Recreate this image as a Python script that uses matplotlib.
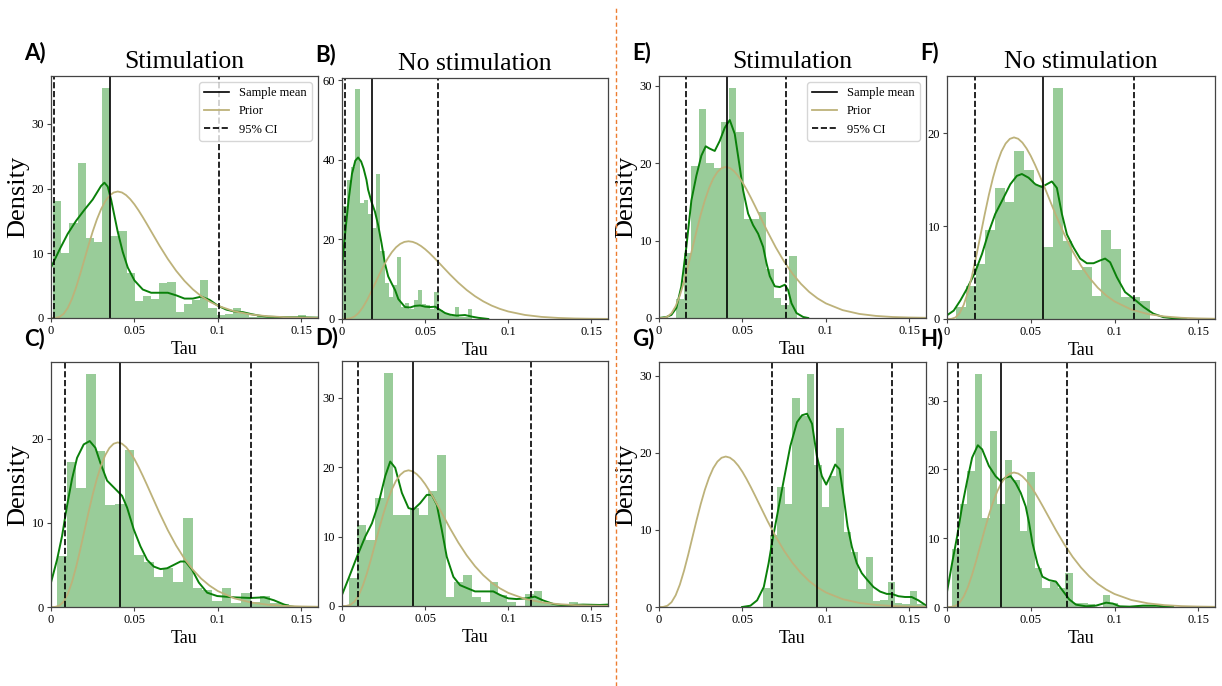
import matplotlib
matplotlib.use("Agg")
import matplotlib.pyplot as plt
import numpy as np
from matplotlib.lines import Line2D

plt.rcParams['font.family'] = 'serif'
plt.rcParams['font.serif'] = ['Liberation Serif', 'DejaVu Serif']

# prior curve (same in every panel)
prior_x = [0, 0.0025, 0.005, 0.0075, 0.01, 0.0125, 0.015, 0.0175, 0.02, 0.0225, 0.025, 0.0275,
           0.03, 0.0325, 0.035, 0.0375, 0.04, 0.0425, 0.045, 0.0475, 0.05, 0.0525, 0.055, 0.0575,
           0.06, 0.065, 0.07, 0.075, 0.08, 0.085, 0.09, 0.095, 0.1, 0.11, 0.12, 0.13, 0.14, 0.15, 0.16]
prior_y = [0, 0.01, 0.16, 0.62, 1.53, 2.91, 4.71, 6.79, 9.02, 11.25, 13.36, 15.23,
           16.8, 18.03, 18.88, 19.38, 19.54, 19.39, 18.98, 18.35, 17.55, 16.61, 15.58, 14.5,
           13.39, 11.18, 9.12, 7.29, 5.73, 4.43, 3.37, 2.54, 1.89, 1.02, 0.53, 0.27, 0.13, 0.065, 0.03]

# A) stimulation
A_hist_start, A_hist_width = 0.0012, 0.0049
A_hist = [18.1, 10.0, 14.7, 24.0, 12.3, 11.7, 35.6, 12.6, 13.4, 6.9, 2.6, 3.4, 2.9, 5.4, 5.5, 0.9,
          2.2, 2.8, 5.8, 1.6, 0.5, 0.6, 1.5, 0.7, 0.2, 0.3, 0.2, 0.0, 0.2, 0.2, 0.5]
A_kde_x = [0, 0.005, 0.01, 0.015, 0.02, 0.025, 0.03, 0.032, 0.034, 0.036, 0.038, 0.04, 0.043, 0.046,
           0.05, 0.055, 0.06, 0.065, 0.07, 0.075, 0.08, 0.085, 0.09, 0.095, 0.1, 0.105, 0.11, 0.115,
           0.12, 0.125, 0.13, 0.14, 0.15, 0.16]
A_kde_y = [7.8, 10.5, 13.0, 15.0, 16.7, 18.3, 20.4, 20.9, 20.3, 18.3, 15.8, 13.3, 10.2, 7.8,
           5.8, 4.4, 3.9, 3.9, 3.9, 3.5, 3.0, 3.0, 3.3, 2.8, 1.9, 1.3, 1.0, 0.9,
           0.6, 0.35, 0.2, 0.12, 0.1, 0.05]
A_mean, A_ci = 0.0356, (0.0016, 0.1006)

# B) no stimulation
B_hist_start, B_hist_width = 0.0006, 0.0025
B_hist = [28.4, 34.9, 38.3, 57.7, 29.1, 30.0, 26.4, 23.0, 36.4, 17.0, 9.0, 5.5, 8.5, 15.5, 3.0, 4.0,
          2.5, 4.8, 7.2, 3.8, 3.5, 2.6, 6.7, 2.2, 1.5, 1.2, 0.8, 3.0, 0.6, 0.4, 2.5]
B_kde_x = [0, 0.002, 0.004, 0.006, 0.008, 0.0097, 0.0115, 0.013, 0.0147, 0.0157, 0.0177, 0.0198,
           0.0218, 0.0238, 0.0258, 0.0278, 0.0298, 0.0319, 0.0339, 0.0359, 0.0379, 0.041, 0.044,
           0.047, 0.05, 0.053, 0.056, 0.059, 0.062, 0.065, 0.069, 0.074, 0.078, 0.082, 0.088]
B_kde_y = [13.2, 22.0, 30.0, 36.5, 39.8, 40.6, 39.6, 37.8, 35.0, 32.5, 29.5, 27.0,
           23.5, 19.0, 14.0, 10.7, 9.0, 7.3, 5.0, 4.0, 3.0, 2.9, 3.3,
           3.4, 3.1, 3.0, 3.1, 2.3, 1.5, 1.1, 0.85, 1.0, 0.6, 0.3, 0.0]
B_mean, B_ci = 0.018, (0.002, 0.0576)

# C) stimulation
C_hist_start, C_hist_width = 0.0036, 0.0058
C_hist = [6.0, 17.2, 14.1, 27.7, 18.5, 12.1, 12.2, 18.6, 6.2, 5.4, 3.6, 4.6, 3.0, 10.6, 2.3, 2.0,
          0.7, 2.3, 0.5, 1.7, 0.6, 1.3, 0.5, 0.3, 0.1]
C_kde_x = [0, 0.0036, 0.0066, 0.0096, 0.0126, 0.0156, 0.0196, 0.0232, 0.0266, 0.0296, 0.0336,
           0.0386, 0.0426, 0.0456, 0.0496, 0.0536, 0.0576, 0.0616, 0.0656, 0.0696, 0.0736, 0.0776,
           0.0806, 0.0846, 0.0886, 0.0936, 0.0996, 0.1096, 0.1196, 0.1276, 0.1336, 0.1396, 0.1436, 0.146]
C_kde_y = [2.9, 5.6, 8.4, 12.0, 15.2, 17.7, 19.3, 19.7, 18.9, 17.1, 15.0,
           14.0, 13.2, 11.8, 9.2, 7.2, 5.6, 4.8, 4.5, 4.6, 5.0, 5.4,
           5.4, 4.4, 2.9, 1.7, 1.3, 1.15, 1.07, 1.15, 0.8, 0.3, 0.08, 0.0]
C_mean, C_ci = 0.0416, (0.0086, 0.12)

# D) no stimulation
D_hist_start, D_hist_width = 0.004, 0.0053
D_hist = [4.0, 11.7, 9.5, 15.6, 33.6, 13.1, 13.1, 14.1, 13.1, 16.5, 21.8, 1.3, 3.5, 4.4, 1.3, 0.6,
          3.4, 1.6, 0.6, 0.0, 1.7, 2.2, 0.6, 0.3, 0.1, 0.6, 0.3, 0.2]
D_kde_x = [0, 0.004, 0.009, 0.014, 0.018, 0.022, 0.026, 0.029, 0.032, 0.036, 0.04, 0.043, 0.047,
           0.051, 0.054, 0.057, 0.06, 0.063, 0.067, 0.071, 0.075, 0.08, 0.086, 0.091, 0.095, 0.1,
           0.105, 0.111, 0.116, 0.121, 0.127, 0.133, 0.139, 0.145, 0.155, 0.16]
D_kde_y = [1.6, 4.0, 7.1, 10.0, 11.9, 14.8, 18.7, 20.8, 19.9, 16.3, 14.1, 13.9, 14.8,
           16.0, 16.0, 14.6, 11.0, 7.1, 4.2, 3.0, 2.6, 2.1, 2.1, 2.1, 1.6, 1.1,
           1.0, 1.1, 1.35, 0.8, 0.3, 0.1, 0.15, 0.2, 0.15, 0.2]
D_mean, D_ci = 0.043, (0.0096, 0.1134)

# E) stimulation
E_hist_start, E_hist_width = 0.0104, 0.0045
E_hist = [2.4, 8.4, 19.7, 27.0, 20.1, 19.4, 25.3, 29.8, 24.0, 12.8, 12.8, 13.7, 6.4, 2.6, 1.7, 8.0]
E_kde_x = [0.0, 0.0044, 0.0074, 0.0104, 0.0134, 0.0164, 0.0194, 0.0224, 0.0254, 0.028, 0.0304,
           0.0334, 0.0364, 0.0394, 0.0424, 0.0454, 0.0484, 0.0504, 0.0534, 0.0564, 0.0594, 0.0624,
           0.0644, 0.0664, 0.0694, 0.0724, 0.0754, 0.0774, 0.0794, 0.0824, 0.0864, 0.0894]
E_kde_y = [0.0, 0.13, 0.4, 1.3, 4.1, 9.2, 15.2, 18.4, 21.0, 22.2, 21.9,
           21.6, 22.9, 24.6, 25.6, 23.8, 19.5, 16.5, 13.5, 12.0, 10.9, 9.2,
           7.1, 5.4, 4.1, 4.0, 4.3, 3.6, 1.9, 0.64, 0.13, 0.0]
E_mean, E_ci = 0.0408, (0.0164, 0.0764)

# F) no stimulation
F_hist_start, F_hist_width = 0.0056, 0.00577
F_hist = [1.3, 3.6, 5.9, 9.6, 14.1, 12.6, 18.1, 16.0, 14.4, 7.7, 24.9, 8.4, 5.3, 5.6, 2.5, 9.6,
          7.5, 2.4, 2.4, 1.9]
F_kde_x = [0, 0.004, 0.008, 0.0119, 0.0165, 0.0209, 0.0248, 0.0288, 0.0328, 0.0378, 0.0417,
           0.0447, 0.0487, 0.0527, 0.0566, 0.0596, 0.0626, 0.0656, 0.0686, 0.0716, 0.0755, 0.0795,
           0.0835, 0.0875, 0.0914, 0.0944, 0.0974, 0.1014, 0.1063, 0.1113, 0.1173, 0.1232, 0.1292,
           0.137, 0.143]
F_kde_y = [0.4, 0.9, 2.0, 3.25, 4.9, 7.0, 9.3, 11.3, 12.7, 14.5, 15.4,
           15.6, 15.2, 14.5, 14.2, 14.5, 14.8, 14.1, 11.3, 9.1, 7.7, 6.5,
           6.0, 6.0, 6.3, 6.5, 6.1, 4.5, 2.9, 2.2, 1.3, 0.57, 0.2,
           0.04, 0.0]
F_mean, F_ci = 0.0576, (0.0165, 0.1119)

# G) stimulation
G_hist_start, G_hist_width = 0.0622, 0.0044
G_hist = [2.5, 9.4, 15.6, 13.4, 27.2, 24.8, 30.3, 18.5, 13.0, 17.0, 23.2, 9.8, 7.1, 2.3, 6.5, 0.8,
          0.9, 3.3, 0.5, 0.4, 2.1, 0.35]
G_kde_x = [0.0498, 0.0548, 0.0588, 0.0628, 0.0657, 0.0677, 0.0707, 0.0747, 0.0787, 0.0827, 0.0857,
           0.0887, 0.0917, 0.0946, 0.0976, 0.1002, 0.1026, 0.1056, 0.1082, 0.1106, 0.113, 0.1156,
           0.1185, 0.1215, 0.1245, 0.1285, 0.1325, 0.1365, 0.1395, 0.1435, 0.1474, 0.1514, 0.1554, 0.16]
G_kde_y = [0.0, 0.17, 0.87, 2.6, 5.7, 8.3, 11.8, 16.4, 20.9, 24.0, 24.9,
           25.1, 23.8, 19.6, 17.0, 15.9, 17.0, 18.5, 17.9, 14.4, 10.5, 7.8,
           5.7, 4.4, 3.6, 2.6, 2.0, 1.7, 1.7, 1.4, 1.3, 1.3, 0.87, 0.2]
G_mean, G_ci = 0.0946, (0.0677, 0.1399)

# H) no stimulation
H_hist_start, H_hist_width = 0.003, 0.0045
H_hist = [8.4, 14.9, 19.8, 33.9, 12.9, 25.5, 14.9, 21.4, 18.4, 11.1, 19.6, 5.6, 2.7, 3.7, 2.7, 4.9,
          0.6, 0.6, 0.4, 0.0, 1.7, 0.6, 0.0, 0.1, 0.2, 0.25, 0.2, 0.3]
H_kde_x = [0, 0.003, 0.006, 0.009, 0.012, 0.015, 0.0184, 0.021, 0.025, 0.029, 0.032, 0.035, 0.038,
           0.041, 0.044, 0.047, 0.049, 0.051, 0.054, 0.057, 0.061, 0.065, 0.069, 0.073, 0.077,
           0.083, 0.089, 0.095, 0.099, 0.103, 0.109, 0.117, 0.125, 0.129, 0.135]
H_kde_y = [2.2, 6.3, 10.2, 14.6, 18.3, 21.7, 23.5, 22.9, 20.5, 19.0, 18.3, 18.8, 19.0,
           18.0, 16.6, 14.6, 12.2, 9.3, 6.3, 4.4, 3.9, 3.7, 2.4, 1.1, 0.34,
           0.1, 0.2, 0.63, 0.5, 0.1, 0.05, 0.2, 0.2, 0.1, 0.0]
H_mean, H_ci = 0.032, (0.0066, 0.0714)

xtick_vals = [0, 0.05, 0.1, 0.15]
xtick_labels = ['0', '0.05', '0.1', '0.15']

W, H = 1222, 686
fig = plt.figure(figsize=(W / 100, H / 100), dpi=100)


def rect(l, t, r, b):
    return [l / W, 1 - b / H, (r - l) / W, (b - t) / H]


hist_col = '#99cc99'
kde_col = '#0a800a'
prior_col = '#bdb27a'

panels = [
    ('A)', (51, 76, 318, 318), A_hist_start, A_hist_width, A_hist, A_kde_x, A_kde_y, A_mean, A_ci, 'Stimulation', True, True, 10),
    ('B)', (342, 78, 608, 319), B_hist_start, B_hist_width, B_hist, B_kde_x, B_kde_y, B_mean, B_ci, 'No stimulation', False, False, 20),
    ('C)', (51, 362, 318, 607), C_hist_start, C_hist_width, C_hist, C_kde_x, C_kde_y, C_mean, C_ci, None, True, False, 10),
    ('D)', (342, 361, 608, 606), D_hist_start, D_hist_width, D_hist, D_kde_x, D_kde_y, D_mean, D_ci, None, False, False, 10),
    ('E)', (659, 76, 926, 318), E_hist_start, E_hist_width, E_hist, E_kde_x, E_kde_y, E_mean, E_ci, 'Stimulation', True, True, 10),
    ('F)', (947, 76, 1215, 319), F_hist_start, F_hist_width, F_hist, F_kde_x, F_kde_y, F_mean, F_ci, 'No stimulation', False, False, 10),
    ('G)', (659, 362, 926, 607), G_hist_start, G_hist_width, G_hist, G_kde_x, G_kde_y, G_mean, G_ci, None, True, False, 10),
    ('H)', (947, 362, 1215, 607), H_hist_start, H_hist_width, H_hist, H_kde_x, H_kde_y, H_mean, H_ci, None, False, False, 10),
]

for (letter, box, h0, hw, hist, kx, ky, mean, ci, title, ylab, legend, ystep) in panels:
    ax = fig.add_axes(rect(*box))
    lefts = h0 + hw * np.arange(len(hist))
    ax.bar(lefts, hist, width=hw, align='edge', color=hist_col, linewidth=0)
    ax.plot(kx, ky, color=kde_col, lw=1.4)
    l_prior, = ax.plot(prior_x, prior_y, color=prior_col, lw=1.3)
    l_mean = ax.axvline(mean, color='black', lw=1.2)
    l_ci = ax.axvline(ci[0], color='black', lw=1.2, ls='--')
    ax.axvline(ci[1], color='black', lw=1.2, ls='--')
    ax.set_xlim(0, 0.16)
    ax.set_xticks(xtick_vals)
    ax.set_xticklabels(xtick_labels)
    ax.yaxis.set_major_locator(plt.MultipleLocator(ystep))
    ax.tick_params(labelsize=9, length=3, width=0.8, color='#444444', pad=2)
    for s in ax.spines.values():
        s.set_color('#444444')
        s.set_linewidth(0.9)
    ax.set_xlabel('Tau', fontsize=13, labelpad=3)
    if ylab:
        ax.set_ylabel('Density', fontsize=19)
        ax.yaxis.set_label_coords(-0.08, 0.5)
    if title:
        ax.set_title(title, fontsize=18.5, pad=6)
    if legend:
        ax.legend([l_mean, l_prior, l_ci], ['Sample mean', 'Prior', '95% CI'],
                  loc='upper right', fontsize=9, handlelength=2.0)
    l, t, r, b = box
    fig.text((l - 27) / W, 1 - (t - 13) / H, letter, fontsize=16, fontweight='bold',
             family=['Lato', 'DejaVu Sans'], ha='left', va='bottom')

fig.add_artist(Line2D([616 / W, 616 / W], [0, 1 - 6 / H], transform=fig.transFigure,
                      color='#ed7d31', lw=1.0, ls=(0, (3, 2))))

fig.savefig('out.png', dpi=100)
